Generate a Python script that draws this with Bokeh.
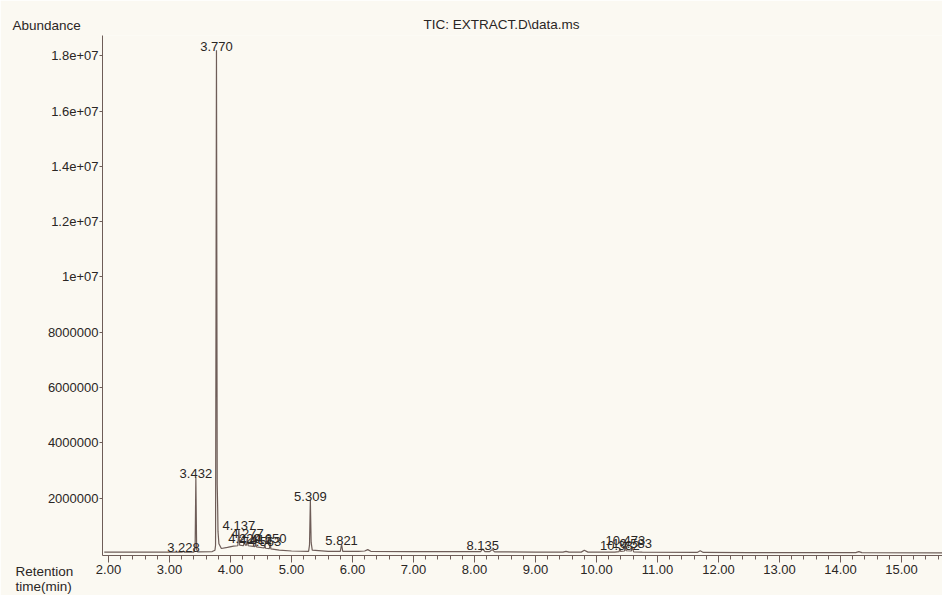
from bokeh.plotting import figure
from bokeh.models import Range1d, FixedTicker, Title, ColumnDataSource
from bokeh.core.properties import value
from bokeh.embed import file_html
from bokeh.resources import INLINE

# Total ion chromatogram: retention time (min) and abundance along the trace
rt = [1.93, 2.50, 3.00, 3.20, 3.215, 3.228, 3.24, 3.40, 3.420, 3.432, 3.445, 3.46,
      3.70, 3.745, 3.755, 3.770, 3.782, 3.790, 3.795, 3.81, 3.85, 3.95, 4.05, 4.12,
      4.137, 4.15, 4.21, 4.229, 4.245, 4.262, 4.277, 4.29, 4.40, 4.412, 4.425, 4.55,
      4.563, 4.575, 4.638, 4.650, 4.662, 4.80, 5.00, 5.28, 5.295, 5.309, 5.322, 5.34,
      5.60, 5.80, 5.821, 5.84, 6.10, 6.20, 6.25, 6.30, 7.00, 8.10, 8.135, 8.17, 8.25,
      8.29, 8.33, 9.00, 9.45, 9.50, 9.55, 9.75, 9.80, 9.86, 10.30, 10.370, 10.382,
      10.395, 10.460, 10.473, 10.486, 10.570, 10.583, 10.61, 10.75, 11.65, 11.70,
      11.75, 12.50, 14.25, 14.30, 14.35, 15.67]
abundance = [0.05e6, 0.05e6, 0.05e6, 0.05e6, 0.06e6, 0.10e6, 0.05e6, 0.05e6, 0.20e6,
             2.75e6, 0.15e6, 0.06e6, 0.07e6, 0.12e6, 0.30e6, 18.2e6, 2.5e6, 1.6e6,
             0.8e6, 0.35e6, 0.18e6, 0.22e6, 0.27e6, 0.28e6, 0.87e6, 0.30e6, 0.28e6,
             0.42e6, 0.30e6, 0.30e6, 0.58e6, 0.28e6, 0.25e6, 0.38e6, 0.24e6, 0.20e6,
             0.30e6, 0.19e6, 0.18e6, 0.40e6, 0.17e6, 0.12e6, 0.09e6, 0.08e6, 0.30e6,
             1.93e6, 0.40e6, 0.12e6, 0.08e6, 0.08e6, 0.33e6, 0.08e6, 0.08e6, 0.09e6,
             0.14e6, 0.08e6, 0.07e6, 0.07e6, 0.17e6, 0.07e6, 0.07e6, 0.14e6, 0.06e6,
             0.05e6, 0.05e6, 0.08e6, 0.05e6, 0.05e6, 0.12e6, 0.05e6, 0.05e6, 0.07e6,
             0.17e6, 0.08e6, 0.09e6, 0.36e6, 0.10e6, 0.09e6, 0.22e6, 0.06e6, 0.05e6,
             0.04e6, 0.10e6, 0.04e6, 0.03e6, 0.03e6, 0.07e6, 0.03e6, 0.02e6]

# Integrated peaks that carry a retention-time label
peak_rt = [3.228, 3.432, 3.770, 4.137, 4.229, 4.277, 4.412, 4.563, 4.650,
           5.309, 5.821, 8.135, 10.382, 10.473, 10.583]

x_ticks = [2, 3, 4, 5, 6, 7, 8, 9, 10, 11, 12, 13, 14, 15]
x_tick_labels = ["2.00", "3.00", "4.00", "5.00", "6.00", "7.00", "8.00", "9.00",
                 "10.00", "11.00", "12.00", "13.00", "14.00", "15.00"]
y_ticks = [2e6, 4e6, 6e6, 8e6, 10e6, 12e6, 14e6, 16e6, 18e6]
y_tick_labels = ["2000000", "4000000", "6000000", "8000000", "1e+07",
                 "1.2e+07", "1.4e+07", "1.6e+07", "1.8e+07"]

FONT = "Liberation Sans"
PAPER = "#fbf9f2"
INK = "#2a2624"
TRACE = "#6e5d58"

X0, X1 = 1.9016, 15.672
Y0, Y1 = -0.072e6, 18.73e6

p = figure(width=942, height=595, output_backend="svg", toolbar_location=None,
           x_range=Range1d(X0, X1), y_range=Range1d(Y0, Y1),
           min_border_left=102, min_border_right=0, min_border_top=35,
           min_border_bottom=40)
p.background_fill_color = PAPER
p.border_fill_color = PAPER
p.outline_line_color = None
p.grid.visible = False

def style_title(t):
    t.text_font = FONT
    t.text_font_size = "13.5px"
    t.text_font_style = "normal"
    t.text_color = INK

# file name header (outermost title row)
p.title.text = "TIC: EXTRACT.D\\data.ms"
p.title.align = "left"
p.title.offset = 321
p.title.vertical_align = "bottom"
p.title.standoff = -28
style_title(p.title)

# y quantity, top-left corner
t_abund = Title(text="Abundance", align="left", offset=-90,
                vertical_align="top", standoff=1)
style_title(t_abund)
p.add_layout(t_abund, "above")

# x quantity, bottom-left corner
t_time = Title(text="Retention\ntime(min)", align="left", offset=-87,
               vertical_align="top", standoff=-26)
style_title(t_time)
p.add_layout(t_time, "below")

p.line(rt, abundance, line_color=TRACE, line_width=1.2)

# retention-time labels sit on top of each peak apex
peak_h = [abundance[rt.index(t)] for t in peak_rt]
src = ColumnDataSource(dict(x=peak_rt, y=peak_h, txt=[f"{t:.3f}" for t in peak_rt]))
p.text(x="x", y="y", text="txt", source=src, text_align="center",
       text_baseline="bottom", y_offset=1, text_color=INK,
       text_font=value(FONT), text_font_size="13px")

# x axis: retention time
xa = p.xaxis[0]
xa.ticker = FixedTicker(ticks=x_ticks,
                        minor_ticks=[round(2 + 0.2 * i, 1) for i in range(-1, 69)])
xa.major_label_overrides = {t: s for t, s in zip(x_ticks, x_tick_labels)}
xa.axis_line_color = TRACE
xa.major_tick_line_color = TRACE
xa.minor_tick_line_color = TRACE
xa.major_tick_out = 7
xa.major_tick_in = 0
xa.minor_tick_out = 4
xa.minor_tick_in = 0
xa.major_label_standoff = 2
xa.major_label_text_font = FONT
xa.major_label_text_font_size = "13px"
xa.major_label_text_color = INK

# y axis: abundance
ya = p.yaxis[0]
ya.ticker = FixedTicker(ticks=y_ticks)
ya.major_label_overrides = {t: s for t, s in zip(y_ticks, y_tick_labels)}
ya.axis_line_color = TRACE
ya.major_tick_line_color = TRACE
ya.minor_tick_line_color = None
ya.major_tick_out = 3
ya.major_tick_in = 0
ya.major_label_standoff = 1
ya.major_label_text_font = FONT
ya.major_label_text_font_size = "13px"
ya.major_label_text_color = INK

open("out.html", "w").write(file_html(p, INLINE))
